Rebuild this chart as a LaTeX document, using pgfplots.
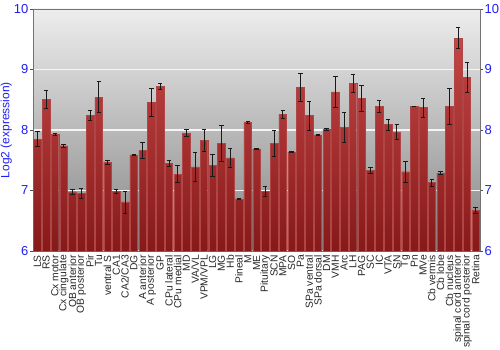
\documentclass[border=0pt]{standalone}
\usepackage{pgfplots}
\pgfplotsset{compat=1.18}
\usepackage{pgfplotstable}
\usepackage{fontspec}
\setmainfont{Liberation Sans}
\definecolor{tickblue}{RGB}{30,30,245}
\definecolor{barL}{RGB}{196,70,70}
\definecolor{barM}{RGB}{190,52,52}
\definecolor{barR}{RGB}{135,25,25}
\definecolor{barE}{RGB}{175,70,70}
\pgfplotstableread{
x y err
0 7.85 0.12
1 8.51 0.15
2 7.93 0.02
3 7.74 0.02
4 6.98 0.04
5 6.95 0.08
6 8.24 0.08
7 8.545 0.26
8 7.47 0.03
9 6.99 0.03
10 6.81 0.18
11 7.59 0.01
12 7.66 0.13
13 8.46 0.23
14 8.72 0.05
15 7.45 0.05
16 7.27 0.14
17 7.95 0.06
18 7.39 0.24
19 7.83 0.18
20 7.42 0.18
21 7.78 0.30
22 7.54 0.15
23 6.86 0.01
24 8.13 0.02
25 7.69 0.005
26 6.99 0.08
27 7.78 0.22
28 8.26 0.06
29 7.64 0.01
30 8.71 0.23
31 8.24 0.24
32 7.92 0.01
33 8.01 0.02
34 8.63 0.25
35 8.04 0.25
36 8.77 0.15
37 8.52 0.21
38 7.33 0.05
39 8.39 0.10
40 8.09 0.09
41 7.97 0.12
42 7.31 0.17
43 8.39 0.005
44 8.37 0.16
45 7.13 0.06
46 7.29 0.03
47 8.39 0.30
48 9.52 0.17
49 8.87 0.25
50 6.67 0.05
}\datatable
\begin{document}
\begin{tikzpicture}
\useasboundingbox (-33bp,-99bp) rectangle (467bp,251bp);
\begin{axis}[
  scale only axis,
  width=447bp, height=242bp,
  xmin=-0.5, xmax=50.5,
  ymin=6, ymax=10,
  ytick={6,7,8,9,10},
  ytick pos=left,
  tick align=outside,
  major tick length=3bp,
  xtick=data,
  xtick style={draw=none},
  xticklabels={LS,RS,Cx motor,Cx cingulate,OB anterior,OB posterior,Pir,Tu,ventral S,CA1,CA2/CA3,DG,A anterior,A posterior,GP,CPu lateral,CPu medial,MD,VA/VL,VPM/VPL,LG,MG,Hb,Pineal,M,ME,Pituitary,SCN,MPA,SO,Pa,SPa ventral,SPa dorsal,DM,VMH,Arc,LH,PAG,SC,IC,VTA,SN,Tg,Pn,MVe,Cb vermis,Cb lobe,Cb nucleus,spinal cord anterior,spinal cord posterior,Retina},
  xticklabel style={rotate=90, anchor=east, font=\fontsize{10.3bp}{11bp}\selectfont, inner sep=1bp, text=black!85},
  yticklabel style={font=\fontsize{13bp}{14bp}\selectfont, text=tickblue, inner sep=1.5bp},
  /pgf/number format/assume math mode=true,
  ylabel={Log2 (expression)},
  ylabel style={font=\fontsize{12bp}{13bp}\selectfont, text=tickblue},
  ylabel shift=-3bp,
  axis line style={black!55},
  tick style={black!70},
  ymajorgrids,
  major grid style={white!92!gray, line width=1.2pt},
  axis background/.style={top color=white!93!black, bottom color=white!52!black},
  ybar, bar width=7.6bp,
]
\addplot[draw=barE, line width=0.4pt, left color=barL, middle color=barM, right color=barR, shading angle=0,
  error bars/.cd, y dir=both, y explicit,
  error bar style={black!90, line width=0.7pt},
  error mark options={rotate=90, black!90, mark size=2.2bp, line width=0.7pt}]
  table[x=x, y=y, y error=err] {\datatable};
\end{axis}
\begin{axis}[
  scale only axis,
  width=447bp, height=242bp,
  xmin=-0.5, xmax=50.5,
  ymin=6, ymax=10,
  axis x line=none,
  axis y line*=right,
  ytick={6,7,8,9,10},
  tick align=outside,
  major tick length=3bp,
  yticklabel style={font=\fontsize{13bp}{14bp}\selectfont, text=tickblue, inner sep=1.5bp},
  /pgf/number format/assume math mode=true,
  axis line style={black!55},
  tick style={black!70},
]
\end{axis}
\end{tikzpicture}
\end{document}
